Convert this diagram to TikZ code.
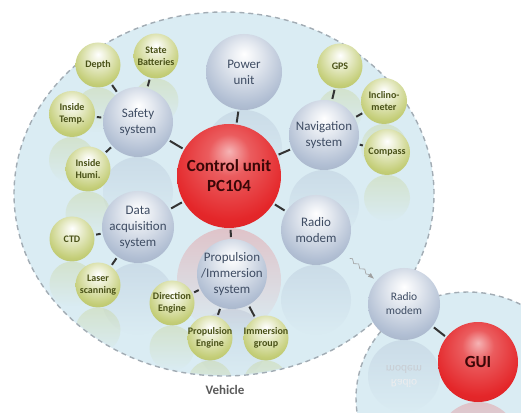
\documentclass[tikz,border=0pt]{standalone}
\usepackage{fontspec}
\setmainfont{Carlito}
\usepackage{xcolor}
\usepackage{tikz}
\usetikzlibrary{arrows.meta,calc,positioning,fadings,backgrounds,decorations.pathmorphing}
\definecolor{OrbBlue}{HTML}{A8B7CE}
\definecolor{OrbGreen}{HTML}{C3CD76}
\definecolor{OrbRed}{HTML}{E42629}
\definecolor{ZoneBlue}{HTML}{DAECF3}
\definecolor{ZoneEdge}{HTML}{A2ACB4}
\definecolor{HubInk}{HTML}{3E4C63}
\definecolor{LeafInk}{HTML}{4A5218}
\definecolor{CoreInk}{HTML}{3A0707}
\pgfdeclareradialshading{hubball}{\pgfqpoint{0bp}{12bp}}{%
  color(0bp)=(white); color(10bp)=(OrbBlue!30!white); color(28bp)=(OrbBlue!90!white);
  color(46bp)=(OrbBlue!85!black); color(62bp)=(OrbBlue!60!black)}
\pgfdeclareradialshading{leafball}{\pgfqpoint{0bp}{12bp}}{%
  color(0bp)=(white); color(10bp)=(OrbGreen!35!white); color(28bp)=(OrbGreen);
  color(46bp)=(OrbGreen!85!black); color(62bp)=(OrbGreen!60!black)}
\pgfdeclareradialshading{coreball}{\pgfqpoint{0bp}{12bp}}{%
  color(0bp)=(OrbRed!35!white); color(10bp)=(OrbRed!75!white); color(28bp)=(OrbRed);
  color(46bp)=(OrbRed!88!black); color(62bp)=(OrbRed!65!black)}
\tikzfading[name=reflectfade,top color=transparent!45,bottom color=transparent!100]
\tikzset{
  >={Latex[length=2.2mm]},
  orb/.style={circle,inner sep=-6pt,outer sep=0pt,align=center},
  hub/.style={orb,shade,shading=hubball,minimum size=70pt,text=HubInk,
    font=\fontsize{13}{16}\selectfont},
  leaf/.style={orb,shade,shading=leafball,minimum size=45pt,text=LeafInk,
    font=\fontsize{10}{12}\selectfont\bfseries},
  core/.style={orb,shade,shading=coreball,text=CoreInk,
    font=\fontsize{17}{20}\selectfont\bfseries},
  zone/.style={fill=ZoneBlue,draw=ZoneEdge,line width=1.4pt,dash pattern=on 5pt off 4pt},
  link/.style={line width=2pt,draw=black!80,shorten <=2pt,shorten >=2pt},
  wave/.style={->,semithick,draw=gray!75,decorate,
    decoration={snake,amplitude=1.5pt,segment length=8pt,post length=4pt}},
  mirror/.style={fill opacity=.55,path fading=reflectfade},
  echo/.style={yscale=-1,transform shape,align=center,font=\fontsize{11.5}{14}\selectfont},
  zonelabel/.style={text=black!65,font=\fontsize{13}{15}\selectfont\bfseries}
}

\begin{document}
\begin{tikzpicture}[x=1pt,y=1pt]
    \useasboundingbox (0,0) rectangle (521,412);

    \node[core,minimum size=104pt] (core) at (229,236) {Control unit\\PC104};
    \node[hub,minimum size=76pt] (power) at ($(core)+(15,104)$) {Power\\unit};
    \node[hub] (nav) at ($(core)+(95,41)$) {Navigation\\system};
    \node[hub] (radio) at ($(core)+(87,-54)$) {Radio\\modem};
    \node[hub] (prop) at ($(core)+(3,-98)$) {Propulsion\\/Immersion\\system};
    \node[hub,minimum size=72pt] (data) at ($(core)+(-91,-51)$) {Data\\acquisition\\system};
    \node[hub] (safety) at ($(core)+(-91,54)$) {Safety\\system};

    \node[leaf] (gps) at ($(nav)+(16,69)$) {GPS};
    \node[leaf,minimum size=46pt] (incl) at ($(nav)+(60,34)$) {Inclino-\\meter};
    \node[leaf,minimum size=46pt] (compass) at ($(nav)+(63,-17)$) {Compass};

    \node[leaf] (depth) at ($(safety)+(-40,57)$) {Depth};
    \node[leaf] (battery) at ($(safety)+(18,66)$) {State\\Batteries};
    \node[leaf,minimum size=46pt] (temp) at ($(safety)+(-66,8)$) {Inside\\Temp.};
    \node[leaf] (humi) at ($(safety)+(-50,-47)$) {Inside\\Humi.};

    \node[leaf] (ctd) at ($(data)+(-66,-12)$) {CTD};
    \node[leaf] (laser) at ($(data)+(-40,-58)$) {Laser\\scanning};

    \node[leaf] (direction) at ($(prop)+(-60,-29)$) {Direction\\Engine};
    \node[leaf] (engine) at ($(prop)+(-22,-64)$) {Propulsion\\Engine};
    \node[leaf] (immersion) at ($(prop)+(34,-64)$) {Immersion\\group};

    \node[hub,minimum size=72pt,font=\fontsize{11.5}{14}\selectfont] (rradio) at ($(radio)+(88,-74)$) {Radio\\modem};
    \node[core,minimum size=80pt] (gui) at ($(rradio)+(74,-58)$) {GUI};
    \node[echo] (rradioecho) at ($(rradio.south)+(0,-36)$) {\textcolor{HubInk!10}{Radio}\\\textcolor{HubInk!28}{modem}};

    \node[zonelabel] (vehicle) at (225,22) {Vehicle};

    \foreach \a/\b in {core/power,core/nav,core/radio,core/prop,core/data,core/safety,
      nav/gps,nav/incl,nav/compass,safety/depth,safety/battery,safety/temp,safety/humi,
      data/ctd,data/laser,prop/direction,prop/engine,prop/immersion,rradio/gui}
      \draw[link] (\a) -- (\b);

    \coordinate (wavestart) at ($(radio)!44pt!(rradio)$);
    \coordinate (waveend) at ($(rradio)!39pt!(radio)$);
    \draw[wave] (wavestart) -- (waveend);

    \begin{pgfonlayer}{background}
      \path[zone] (224,218) ellipse [x radius=210,y radius=182];
      \path[zone] (468,14) ellipse [x radius=112,y radius=106];
      \begin{scope}
        \clip (224,218) ellipse [x radius=209,y radius=181];
        \foreach \orb in {power,nav,radio,prop,data,safety}
          \path[mirror,fill=OrbBlue] let \p1=($(\orb.north)-(\orb.south)$) in
            ($(\orb.south)+(0,-0.5*\y1)$) circle [radius=0.5*\y1];
        \foreach \orb in {gps,incl,compass,depth,battery,temp,humi,ctd,laser,direction,engine,immersion}
          \path[mirror,fill=OrbGreen] let \p1=($(\orb.north)-(\orb.south)$) in
            ($(\orb.south)+(0,-0.5*\y1)$) circle [radius=0.5*\y1];
        \path[mirror,fill=OrbRed!70!white] let \p1=($(core.north)-(core.south)$) in
          ($(core.south)+(0,-0.5*\y1)$) circle [radius=0.5*\y1];
      \end{scope}
      \begin{scope}
        \clip (468,14) ellipse [x radius=111,y radius=105];
        \path[mirror,fill=OrbBlue] let \p1=($(rradio.north)-(rradio.south)$) in
          ($(rradio.south)+(0,-0.5*\y1)$) circle [radius=0.5*\y1];
        \path[mirror,fill=OrbRed!70!white] let \p1=($(gui.north)-(gui.south)$) in
          ($(gui.south)+(0,-0.5*\y1)$) circle [radius=0.5*\y1];
      \end{scope}
    \end{pgfonlayer}
\end{tikzpicture}
\end{document}
